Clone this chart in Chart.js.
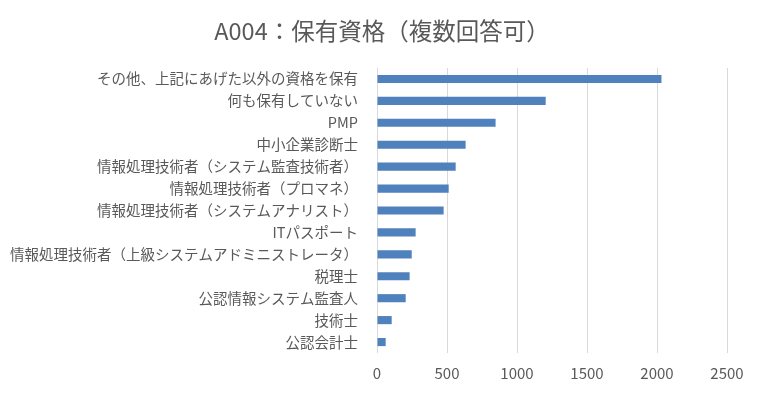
<!DOCTYPE html>
<html><head><meta charset="utf-8">
<script src="https://cdn.jsdelivr.net/npm/chart.js@4"></script>
<style>html,body{margin:0;padding:0;background:#fff}#wrap{width:757px;height:393px}</style>
</head><body><div id="wrap"><canvas id="c" width="757" height="393"></canvas></div>
<script>
const titleText = 'A004：保有資格（複数回答可）';
const categories = [
  'その他、上記にあげた以外の資格を保有',
  '何も保有していない',
  'PMP',
  '中小企業診断士',
  '情報処理技術者（システム監査技術者）',
  '情報処理技術者（プロマネ）',
  '情報処理技術者（システムアナリスト）',
  'ITパスポート',
  '情報処理技術者（上級システムアドミニストレータ）',
  '税理士',
  '公認情報システム監査人',
  '技術士',
  '公認会計士'
];
const counts = [2032, 1205, 847, 633, 562, 512, 476, 276, 248, 233, 205, 105, 62];
const xTicks = [0, 500, 1000, 1500, 2000, 2500];

const FONT = "'Noto Sans CJK JP', 'Noto Sans', sans-serif";
const titlePlugin = {
  id: 'titleText',
  afterDraw(chart) {
    const ctx = chart.ctx;
    ctx.save();
    ctx.fillStyle = '#595959';
    ctx.font = "normal 23.5px " + FONT;
    ctx.textAlign = 'center';
    ctx.textBaseline = 'middle';
    ctx.fillText(titleText, 382, 31);
    ctx.restore();
  }
};
new Chart(document.getElementById('c'), {
  type: 'bar',
  data: { labels: categories, datasets: [{ data: counts, backgroundColor: '#4F81BD', borderWidth: 0,
    categoryPercentage: 1, barPercentage: 0.37 }] },
  options: {
    indexAxis: 'y', responsive: false, animation: false,
    layout: { padding: { left: 0, right: 30, top: 68, bottom: 0 } },
    plugins: { legend: { display: false }, tooltip: { enabled: false }, title: { display: false } },
    scales: {
      x: { min: 0, max: 2500,
        afterBuildTicks: s => { s.ticks = xTicks.map(v => ({ value: v })); },
        grid: { color: '#D9D9D9', drawTicks: false, lineWidth: 1 },
        border: { display: false },
        ticks: { color: '#595959', padding: 11, font: { family: FONT, size: 15 },
          callback: v => String(v) } },
      y: { grid: { display: false, drawTicks: false },
        border: { display: false },
        afterFit: s => { s.width = 377; },
        ticks: { color: '#595959', padding: 19, autoSkip: false, font: { family: FONT, size: 14.5 } } }
    }
  },
  plugins: [titlePlugin]
});
</script></body></html>
